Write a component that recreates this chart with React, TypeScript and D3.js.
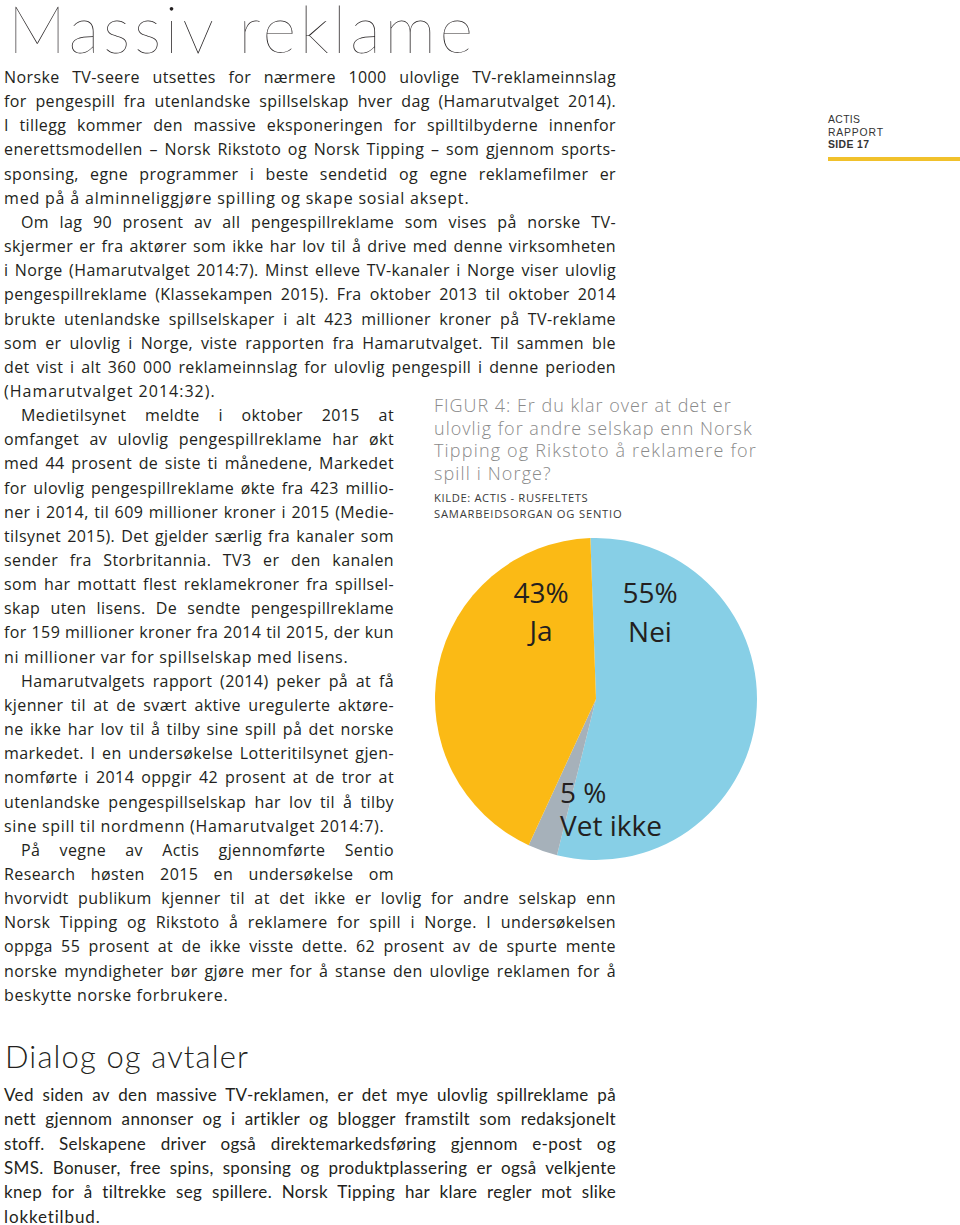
import React, { useLayoutEffect, useRef } from "react";
import * as d3 from "d3";

// ---------- chart data ----------
const categories = ["Nei", "Vet ikke", "Ja"];
const sliceValues = [55, 3, 43];
const percentLabels = ["55%", "5 %", "43%"];
const sliceColors = ["#87CFE6", "#A6B1BA", "#FBBA15"];

// ---------- page text ----------
const title = "Massiv reklame";
const figTitleLines = [
  "FIGUR 4: Er du klar over at det er",
  "ulovlig for andre selskap enn Norsk",
  "Tipping og Rikstoto å reklamere for",
  "spill i Norge?",
];
const figTitleWidths = [297, 318, 322, 117];
const sourceLines = ["KILDE: ACTIS - RUSFELTETS", "SAMARBEIDSORGAN OG SENTIO"];
const sourceWidths = [154, 188];
const sideLines = ["ACTIS", "RAPPORT", "SIDE 17"];
const sideWidths = [20, 55, 41];

const paragraphs: string[][] = [
  [
    "Norske TV-seere utsettes for nærmere 1000 ulovlige TV-reklameinnslag",
    "for pengespill fra utenlandske spillselskap hver dag (Hamarutvalget 2014).",
    "I tillegg kommer den massive eksponeringen for spilltilbyderne innenfor",
    "enerettsmodellen – Norsk Rikstoto og Norsk Tipping – som gjennom sports-",
    "sponsing, egne programmer i beste sendetid og egne reklamefilmer er",
    "med på å alminneliggjøre spilling og skape sosial aksept.",
  ],
  [
    "Om lag 90 prosent av all pengespillreklame som vises på norske TV-",
    "skjermer er fra aktører som ikke har lov til å drive med denne virksomheten",
    "i Norge (Hamarutvalget 2014:7). Minst elleve TV-kanaler i Norge viser ulovlig",
    "pengespillreklame (Klassekampen 2015). Fra oktober 2013 til oktober 2014",
    "brukte utenlandske spillselskaper i alt 423 millioner kroner på TV-reklame",
    "som er ulovlig i Norge, viste rapporten fra Hamarutvalget. Til sammen ble",
    "det vist i alt 360 000 reklameinnslag for ulovlig pengespill i denne perioden",
    "(Hamarutvalget 2014:32).",
  ],
  [
    "Medietilsynet meldte i oktober 2015 at",
    "omfanget av ulovlig pengespillreklame har økt",
    "med 44 prosent de siste ti månedene, Markedet",
    "for ulovlig pengespillreklame økte fra 423 millio-",
    "ner i 2014, til 609 millioner kroner i 2015 (Medie-",
    "tilsynet 2015). Det gjelder særlig fra kanaler som",
    "sender fra Storbritannia. TV3 er den kanalen",
    "som har mottatt flest reklamekroner fra spillsel-",
    "skap uten lisens. De sendte pengespillreklame",
    "for 159 millioner kroner fra 2014 til 2015, der kun",
    "ni millioner var for spillselskap med lisens.",
  ],
  [
    "Hamarutvalgets rapport (2014) peker på at få",
    "kjenner til at de svært aktive uregulerte aktøre-",
    "ne ikke har lov til å tilby sine spill på det norske",
    "markedet. I en undersøkelse Lotteritilsynet gjen-",
    "nomførte i 2014 oppgir 42 prosent at de tror at",
    "utenlandske pengespillselskap har lov til å tilby",
    "sine spill til nordmenn (Hamarutvalget 2014:7).",
  ],
  [
    "På vegne av Actis gjennomførte Sentio",
    "Research høsten 2015 en undersøkelse om",
    "hvorvidt publikum kjenner til at det ikke er lovlig for andre selskap enn",
    "Norsk Tipping og Rikstoto å reklamere for spill i Norge. I undersøkelsen",
    "oppga 55 prosent at de ikke visste dette. 62 prosent av de spurte mente",
    "norske myndigheter bør gjøre mer for å stanse den ulovlige reklamen for å",
    "beskytte norske forbrukere.",
  ],
];
const lastLineEnds = [469, 215, 348, 384, 228];

const heading2 = "Dialog og avtaler";
const dialogLines = [
  "Ved siden av den massive TV-reklamen, er det mye ulovlig spillreklame på",
  "nett gjennom annonser og i artikler og blogger framstilt som redaksjonelt",
  "stoff. Selskapene driver også direktemarkedsføring gjennom e-post og",
  "SMS. Bonuser, free spins, sponsing og produktplassering er også velkjente",
  "knep for å tiltrekke seg spillere. Norsk Tipping har klare regler mot slike",
  "lokketilbud.",
];
const dialogLastEnd = 100;

// ---------- layout ----------
const W = 960;
const H = 1225;
const bodyFont = "'Open Sans', 'Noto Sans', sans-serif";
const textColor = "#231F20";
const pieCx = 596;
const pieCy = 699;
const pieR = 161;
const startDeg = -2;
const labelLayout = [
  { dx: 54, dy: -96, anchor: "middle", gap: 39 },
  { dx: -36, dy: 104, anchor: "start", gap: 33 },
  { dx: -55, dy: -96, anchor: "middle", gap: 38 },
];

export default function App() {
  const ref = useRef<SVGSVGElement>(null);

  useLayoutEffect(() => {
    const svg = d3.select(ref.current);
    svg.selectAll<SVGTextElement, unknown>("text.just").each(function () {
      const el = this as SVGTextElement;
      el.style.wordSpacing = "0px";
      const target = +(el.getAttribute("data-w") || 0);
      const w = el.getComputedTextLength();
      const n = (el.textContent || "").split(" ").length - 1;
      const ws = n > 0 ? (target - w) / n : 0;
      if (n > 0 && ws > -1.5) {
        el.style.wordSpacing = ws + "px";
      } else {
        el.setAttribute("textLength", String(target));
        el.setAttribute("lengthAdjust", "spacing");
      }
    });
    svg.selectAll<SVGTextElement, unknown>("text.fit").each(function () {
      const el = this as SVGTextElement;
      const target = +(el.getAttribute("data-w") || 0);
      const w = el.getComputedTextLength();
      const n = (el.textContent || "").length;
      const ls = parseFloat(getComputedStyle(el).letterSpacing) || 0;
      const add = (target - w) / Math.max(1, n - 1);
      if (Math.abs(add) < 1.3) el.style.letterSpacing = ls + add + "px";
    });
  }, []);

  const pie = d3
    .pie<number>()
    .sort(null)
    .startAngle((startDeg * Math.PI) / 180)
    .endAngle(((startDeg + 360) * Math.PI) / 180);
  const arcs = pie(sliceValues);
  const arc = d3.arc<d3.PieArcDatum<number>>().innerRadius(0).outerRadius(pieR);

  // body lines
  const lineH = 24.15;
  const firstBase = 83;
  const bodyEls: React.ReactNode[] = [];
  let gi = 0;
  paragraphs.forEach((para, pi) => {
    para.forEach((line, li) => {
      const narrow = gi >= 14 && gi <= 33;
      const right = narrow ? 394 : 616;
      const x = pi > 0 && li === 0 ? 21 : 4;
      const y = firstBase + gi * lineH;
      const isLast = li === para.length - 1;
      if (isLast) {
        bodyEls.push(
          <text key={gi} className="fit" data-w={lastLineEnds[pi] - x} x={x} y={y}>
            {line}
          </text>
        );
      } else {
        bodyEls.push(
          <text key={gi} className="just" data-w={right - x} x={x} y={y}>
            {line}
          </text>
        );
      }
      gi++;
    });
  });

  return (
    <svg
      ref={ref}
      width={W}
      height={H}
      viewBox={`0 0 ${W} ${H}`}
      style={{ position: "absolute", left: 0, top: 0, background: "#fff" }}
    >
      <rect width={W} height={H} fill="#fff" />
      {/* Title */}
      <text
        x={8}
        y={53}
        fontFamily="Lato, 'Open Sans', sans-serif"
        fontWeight={100}
        fontSize={65}
        fill={textColor}
        textLength={465}
        lengthAdjust="spacing"
      >
        {title}
      </text>

      {/* side label */}
      <g fontFamily="'Liberation Sans', Arial, sans-serif" fontSize={10.4} fill="#333">
        {sideLines.map((s, i) => (
          <text
            key={s}
            className="fit"
            data-w={i === 0 ? 32 : sideWidths[i]}
            x={828}
            y={123 + i * 12.5}
            fontWeight={i === 2 ? 700 : 400}
          >
            {s}
          </text>
        ))}
      </g>
      <rect x={828} y={157} width={132} height={4} fill="#F1C12B" />

      {/* body text */}
      <g fontFamily={bodyFont} fontSize={16} fill={textColor} letterSpacing={0.4}>
        {bodyEls}
      </g>

      {/* figure caption */}
      <g fontFamily={bodyFont} fontSize={18} fill="#8A8A8A" fontWeight={300} letterSpacing={0.3}>
        {figTitleLines.map((s, i) => (
          <text key={i} className="fit" data-w={figTitleWidths[i]} x={434} y={412 + i * 22.5}>
            {s}
          </text>
        ))}
      </g>
      <g fontFamily={bodyFont} fontSize={11.2} fill="#3A3A3A" letterSpacing={0.3}>
        {sourceLines.map((s, i) => (
          <text key={i} className="fit" data-w={sourceWidths[i]} x={434} y={502 + i * 16}>
            {s}
          </text>
        ))}
      </g>

      {/* pie */}
      <g transform={`translate(${pieCx},${pieCy})`}>
        {arcs.map((a, i) => (
          <path key={categories[i]} d={arc(a) || ""} fill={sliceColors[i]} />
        ))}
        {arcs.map((a, i) => {
          const L = labelLayout[i];
          return (
            <g key={"l" + i} fontFamily="'Open Sans', 'Noto Sans', sans-serif" fontSize={28} fill={textColor} textAnchor={L.anchor}>
              <text x={L.dx} y={L.dy}>{percentLabels[i]}</text>
              <text x={L.dx} y={L.dy + L.gap}>{categories[i]}</text>
            </g>
          );
        })}
      </g>

      {/* Dialog section */}
      <text
        x={5}
        y={1068}
        fontFamily="Lato, 'Open Sans', sans-serif"
        fontWeight={300}
        fontSize={31}
        fill={textColor}
        textLength={243}
        lengthAdjust="spacing"
      >
        {heading2}
      </text>
      <g fontFamily="Lato, 'Open Sans', sans-serif" fontSize={17} fill={textColor} letterSpacing={0.35}>
        {dialogLines.map((s, i) => {
          const y = 1101 + i * 24.3;
          const isLast = i === dialogLines.length - 1;
          return isLast ? (
            <text key={i} className="fit" data-w={dialogLastEnd - 4} x={4} y={y}>
              {s}
            </text>
          ) : (
            <text key={i} className="just" data-w={612} x={4} y={y}>
              {s}
            </text>
          );
        })}
      </g>
    </svg>
  );
}
